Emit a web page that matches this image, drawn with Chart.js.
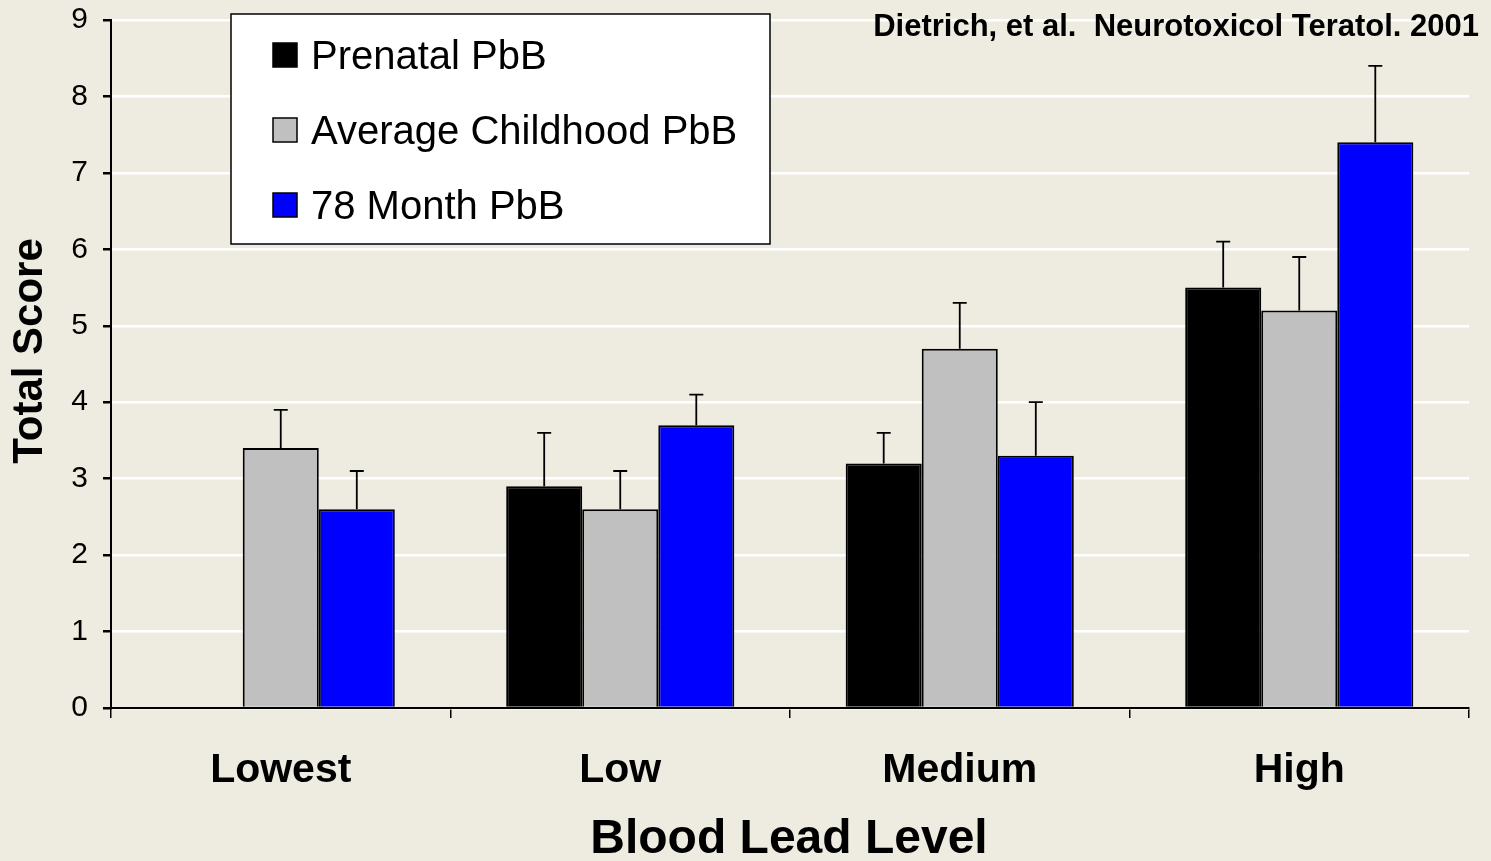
<!DOCTYPE html>
<html><head><meta charset="utf-8">
<script src="https://cdn.jsdelivr.net/npm/chart.js@4/dist/chart.umd.min.js"></script>
<style>html,body{margin:0;padding:0;background:#EEECE1;}#wrap{width:1491px;height:861px;}</style>
</head><body><div id="wrap"><canvas id="c" width="1491" height="861"></canvas></div>
<script>
const categories = ['Lowest', 'Low', 'Medium', 'High'];
const seriesNames = ['Prenatal PbB', 'Average Childhood PbB', '78 Month PbB'];
const prenatal = [null, 2.9, 3.2, 5.5];
const prenatalErr = [null, 0.7, 0.4, 0.6];
const childhood = [3.4, 2.6, 4.7, 5.2];
const childhoodErr = [0.5, 0.5, 0.6, 0.7];
const month78 = [2.6, 3.7, 3.3, 7.4];
const month78Err = [0.5, 0.4, 0.7, 1.0];
const yTicks = [0, 1, 2, 3, 4, 5, 6, 7, 8, 9];
const xTitle = 'Blood Lead Level';
const yTitle = 'Total Score';
const citation = 'Dietrich, et al.  Neurotoxicol Teratol. 2001';
const colors = ['#000000', '#C0C0C0', '#0000FF'];

const FONT = '"Liberation Sans", Arial, sans-serif';
const errs = [prenatalErr, childhoodErr, month78Err];

const errorBars = {
  id: 'errorBars',
  afterDatasetsDraw(chart) {
    const ctx = chart.ctx, y = chart.scales.y;
    ctx.save();
    ctx.strokeStyle = '#000';
    ctx.lineWidth = 1.8;
    chart.data.datasets.forEach((ds, i) => {
      const meta = chart.getDatasetMeta(i);
      meta.data.forEach((bar, j) => {
        const v = ds.data[j];
        if (v == null) return;
        const top = y.getPixelForValue(v + errs[i][j]);
        const base = y.getPixelForValue(v);
        ctx.beginPath();
        ctx.moveTo(bar.x, base);
        ctx.lineTo(bar.x, top);
        ctx.moveTo(bar.x - 7, top);
        ctx.lineTo(bar.x + 7, top);
        ctx.stroke();
      });
    });
    ctx.restore();
  }
};

const decorations = {
  id: 'decorations',
  afterDraw(chart) {
    const ctx = chart.ctx, a = chart.chartArea;
    ctx.save();
    // citation
    ctx.fillStyle = '#000';
    ctx.font = 'bold 31px ' + FONT;
    ctx.textAlign = 'right';
    ctx.textBaseline = 'middle';
    ctx.fillText(citation, 1479, 27);
    // x title
    ctx.font = 'bold 48px ' + FONT;
    ctx.textAlign = 'center';
    ctx.fillText(xTitle, (a.left + a.right) / 2 - 1, 840);
    // y title
    ctx.save();
    ctx.translate(30, 351);
    ctx.rotate(-Math.PI / 2);
    ctx.font = 'bold 42px ' + FONT;
    ctx.fillText(yTitle, 0, 0);
    ctx.restore();
    // legend
    const lx = 231, ly = 14, lw = 539, lh = 230;
    ctx.fillStyle = '#fff';
    ctx.fillRect(lx, ly, lw, lh);
    ctx.strokeStyle = '#000';
    ctx.lineWidth = 1.5;
    ctx.strokeRect(lx, ly, lw, lh);
    ctx.font = '40px ' + FONT;
    ctx.textAlign = 'left';
    chart.data.datasets.forEach((ds, i) => {
      const cy = 55 + i * 75;
      ctx.fillStyle = ds.backgroundColor;
      ctx.fillRect(273, cy - 12, 24, 24);
      ctx.lineWidth = 1.5;
      ctx.strokeRect(273, cy - 12, 24, 24);
      ctx.fillStyle = '#000';
      ctx.fillText(ds.label, 311, cy + 3);
    });
    ctx.restore();
  }
};

new Chart(document.getElementById('c'), {
  type: 'bar',
  data: {
    labels: categories,
    datasets: [
      { label: seriesNames[0], data: prenatal, backgroundColor: colors[0] },
      { label: seriesNames[1], data: childhood, backgroundColor: colors[1] },
      { label: seriesNames[2], data: month78, backgroundColor: colors[2] }
    ].map(d => Object.assign(d, { borderColor: '#000', borderWidth: 2, categoryPercentage: 0.672, barPercentage: 1.0 }))
  },
  options: {
    responsive: false,
    animation: false,
    devicePixelRatio: 1,
    layout: { padding: { left: 0, top: 20, right: 22, bottom: 0 } },
    plugins: { legend: { display: false }, tooltip: { enabled: false } },
    scales: {
      x: {
        afterFit(s) { s.height = 153; s.paddingLeft = 0; s.paddingRight = 0; },
        grid: { offset: true, drawOnChartArea: false, tickColor: '#000', tickLength: 10, lineWidth: 1.5 },
        border: { color: '#000', width: 2 },
        ticks: { color: '#000', padding: 28, font: { family: FONT, size: 41, weight: 'bold' } }
      },
      y: {
        min: 0, max: 9,
        afterFit(s) { s.width = 111; s.paddingTop = 0; s.paddingBottom = 0; },
        afterBuildTicks(s) { s.ticks = yTicks.map(v => ({ value: v })); },
        grid: { color: '#FFFFFF', lineWidth: 2.5, tickColor: '#000', tickLength: 8 },
        border: { color: '#000', width: 2 },
        ticks: { color: '#000', padding: 15, font: { family: FONT, size: 30 } }
      }
    }
  },
  plugins: [errorBars, decorations]
});
</script></body></html>
